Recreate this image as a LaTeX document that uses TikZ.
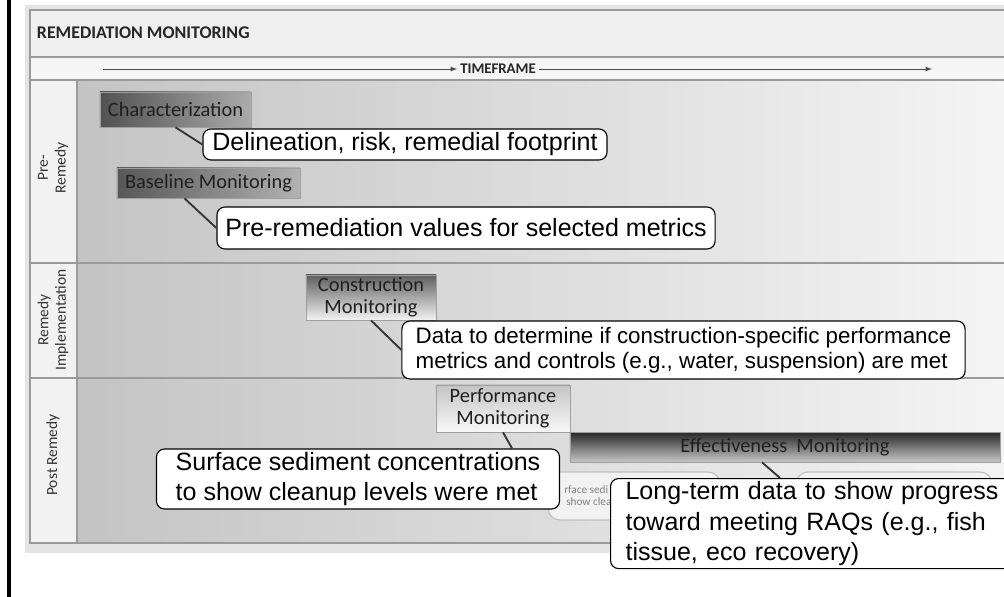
\documentclass[tikz,border=0pt]{standalone}
\usepackage{fontspec}
\setmainfont{Liberation Sans}
\newfontfamily\calibri{Carlito}
\usepackage{xcolor}
\usepackage{tikz}

\definecolor{panelgray}{HTML}{E4E4E4}
\definecolor{titlegray}{HTML}{EFEFEF}
\definecolor{labelgray}{HTML}{F2F2F2}
\definecolor{areadark}{HTML}{C4C4C4}
\definecolor{arealight}{HTML}{F4F4F4}
\definecolor{gridgray}{HTML}{9A9A9A}

\tikzset{
	callout/.style={draw=black, fill=white, line width=0.8pt, rounded corners=0.2cm, align=left, inner sep=0pt, font=\fontsize{17.8}{21.5}\selectfont},
	stagebox/.style={draw=gray!75, line width=0.5pt, inner sep=0pt, align=center, text=black!88, font=\calibri\fontsize{14.5}{15.5}\selectfont},
	leader/.style={draw=black!80, line width=1.3pt},
	rowlabel/.style={rotate=90, align=center, text=black!80, font=\calibri\fontsize{11}{12.5}\selectfont},
	ghost/.style={draw=gray!50, fill=gray!10, line width=0.8pt, rounded corners=0.3cm},
	ghosttext/.style={anchor=west, inner sep=0pt, text=gray, font=\calibri\fontsize{8}{9.5}\selectfont},
	gridline/.style={draw=gridgray, line width=1pt}
}

\begin{document}
\begin{tikzpicture}[x=0.025cm, y=-0.025cm]
	\useasboundingbox (0,0) rectangle (1004,597);
	\fill[white] (0,0) rectangle (1004,597);
	\draw[line width=2.2pt] (9,0) -- (9,597);
	
	\fill[panelgray] (25,5) rectangle (1004,553);
	\fill[titlegray] (30,10) rectangle (1004,57);
	\fill[titlegray!60!white] (30,57) rectangle (1004,80);
	\fill[labelgray] (30,80) rectangle (77,543);
	\shade[left color=areadark, right color=arealight] (77,80) rectangle (1004,543);
	\draw[gridline] (1004,10) -- (30,10) -- (30,543) -- (1004,543);
	\draw[gridline] (30,57) -- (1004,57);
	\draw[gridline] (30,80) -- (1004,80);
	\draw[gridline] (30,263) -- (1004,263);
	\draw[gridline] (30,378) -- (1004,378);
	\draw[gridline] (77,80) -- (77,543);
	
	\node[anchor=west, text=black!85, font=\calibri\bfseries\fontsize{12.7}{14}\selectfont] (title) at (32,33) {REMEDIATION MONITORING};
	\node[text=black!85, inner sep=2pt, font=\calibri\bfseries\fontsize{10.5}{12}\selectfont] (tf) at (498,69) {TIMEFRAME};
	\coordinate (tfstart) at (103,69);
	\coordinate (tfend) at (932,69);
	\draw[-latex, black!70, line width=0.6pt] (tfstart) -- (tf.west);
	\draw[-latex, black!70, line width=0.6pt] (tf.east) -- (tfend);
	
	\node[rowlabel] (prelabel) at (53,168) {Pre-\\Remedy};
	\node[rowlabel] (implabel) at (53,320) {Remedy\\Implementation};
	\node[rowlabel] (postlabel) at (53,455) {Post Remedy};
	
	\node[stagebox, left color=black!68, right color=black!33, minimum width=3.775cm, minimum height=0.875cm] (char) at (175.5,109.5) {Characterization};
	\node[stagebox, left color=black!66, right color=black!30, minimum width=4.575cm, minimum height=0.75cm] (base) at (208.5,183) {Baseline Monitoring};
	\node[stagebox, top color=black!63, bottom color=black!5, minimum width=3.25cm, minimum height=1.125cm] (cons) at (371,297.5) {Construction\\Monitoring};
	\node[stagebox, top color=black!23, bottom color=black!3, minimum width=3.35cm, minimum height=1.175cm] (perf) at (503,408.5) {Performance\\Monitoring};
	\node[stagebox, top color=black!85, bottom color=black!22, minimum width=10.75cm, minimum height=0.75cm] (eff) at (785,447) {Effectiveness\ \ Monitoring};
	
	\node[ghost, minimum width=4.3cm, minimum height=1.2cm] (ghosta) at (634,496) {};
	\node[ghost, minimum width=4.9cm, minimum height=1.2cm] (ghostb) at (894,496) {};
	\node[ghosttext] (ghostline1) at (564,490) {rface sedi};
	\node[ghosttext] (ghostline2) at (566,502) {show clea};
	
	\node[callout, minimum width=10.1cm, minimum height=0.775cm] (delin) at (405,144.5) {Delineation, risk, remedial footprint};
	\node[callout, minimum width=12.45cm, minimum height=1.05cm] (prevals) at (466,228) {Pre-remediation values for selected metrics};
	\node[callout, minimum width=14.075cm, minimum height=1.45cm, font=\fontsize{15.9}{17.8}\selectfont] (data) at (683.5,350) {Data to determine if construction-specific performance\\metrics and controls (e.g., water, suspension) are met};
	\node[callout, minimum width=10.075cm, minimum height=1.5cm] (sed) at (358,479) {Surface sediment concentrations\\to show cleanup levels were met};
	\node[callout, anchor=north west, text width=9.6cm, inner xsep=0.375cm, minimum height=2.25cm] (long) at (610,478) {Long-term data to show progress\\toward meeting RAQs (e.g., fish\\tissue, eco recovery)};
	
	\draw[leader] (char.south) -- (delin.west);
	\draw[leader] ([xshift=-0.6cm]base.south) -- (prevals.west);
	\draw[leader] (cons.south) -- (data.west);
	\draw[leader] (perf.south) -- ([xshift=-1.2cm]sed.north east);
	\draw[leader] ([xshift=-0.575cm]eff.south) -- ([xshift=4.25cm]long.north west);
\end{tikzpicture}
\end{document}
